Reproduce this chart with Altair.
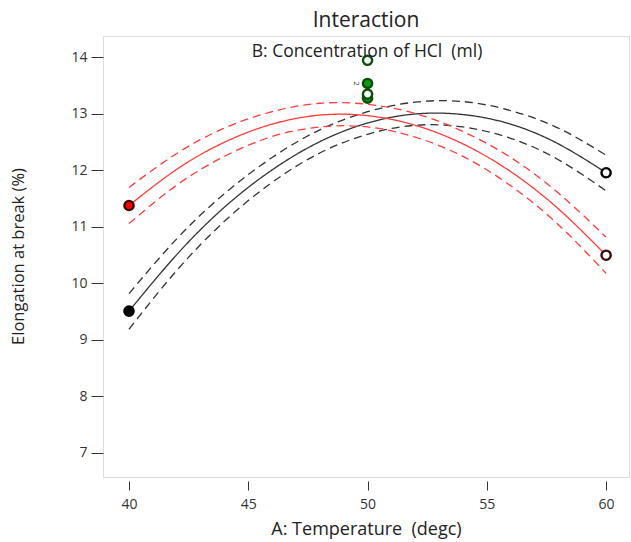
import altair as alt
import pandas as pd

# Temperature grid along each fitted curve (degc)
temps = [40, 42, 44, 46, 48, 50, 52, 54, 56, 58, 60]

# Low HCl level (black): fitted elongation and its interval limits
low_fit = [9.51, 10.51, 11.35, 12.01, 12.51, 12.84, 13.00, 12.99, 12.82, 12.47, 11.96]
low_upper = [9.82, 10.79, 11.59, 12.23, 12.72, 13.04, 13.21, 13.22, 13.06, 12.75, 12.27]
low_lower = [9.19, 10.23, 11.10, 11.79, 12.31, 12.64, 12.80, 12.77, 12.57, 12.19, 11.64]

# High HCl level (red): fitted elongation and its interval limits
high_fit = [11.38, 12.02, 12.50, 12.82, 12.98, 12.97, 12.80, 12.47, 11.98, 11.32, 10.50]
high_upper = [11.70, 12.30, 12.75, 13.04, 13.19, 13.17, 13.01, 12.69, 12.23, 11.60, 10.82]
high_lower = [11.06, 11.74, 12.25, 12.60, 12.77, 12.77, 12.59, 12.25, 11.73, 11.04, 10.18]

# Design points: temperature, elongation, fill, edge colour
pt_temp = [40, 40, 60, 60, 50, 50, 50, 50]
pt_value = [9.51, 11.38, 11.96, 10.50, 13.28, 13.54, 13.35, 13.95]
pt_fill = ["#000000", "#ff0000", "#ffffff", "#ffffff", "#109a10", "#109a10", "#ffffff", "#ffffff"]
pt_edge = ["#000000", "#3a0000", "#000000", "#3a0a0a", "#0b4f0b", "#0b4f0b", "#0b4f0b", "#0b4f0b"]

FONT = "Open Sans"
NBSP = "\u00a0"

rows = []
for level, curves in (("low", (low_fit, low_upper, low_lower)),
                      ("high", (high_fit, high_upper, high_lower))):
    for kind, vals in zip(("fit", "upper", "lower"), curves):
        for t, v in zip(temps, vals):
            rows.append({"temp": t, "value": v, "level": level, "kind": kind,
                         "curve": f"{level}-{kind}"})
lines_df = pd.DataFrame(rows)

points_df = pd.DataFrame({"temp": pt_temp, "value": pt_value,
                          "fill": pt_fill, "edge": pt_edge})

x_scale = alt.Scale(domain=[38.91, 60.96], nice=False, zero=False)
y_scale = alt.Scale(domain=[6.575, 14.38], nice=False, zero=False)

x_enc = alt.X("temp:Q", scale=x_scale,
              axis=alt.Axis(title=f"A: Temperature {NBSP}(degc)", values=[40, 45, 50, 55, 60],
                            format="d", grid=False, domain=False, offset=4,
                            tickSize=9, tickColor="#333", labelPadding=7,
                            labelFontSize=14, labelColor="#333", labelFont=FONT,
                            titleFont=FONT, titleFontSize=18, titleFontWeight="normal",
                            titleColor="#222", titlePadding=9))
y_enc = alt.Y("value:Q", scale=y_scale,
              axis=alt.Axis(title="Elongation at break (%)", values=[7, 8, 9, 10, 11, 12, 13, 14],
                            format="d", grid=False, domain=False, tickSize=12,
                            tickColor="#333", labelPadding=4, labelFontSize=14,
                            labelColor="#333", labelFont=FONT, titleFont=FONT,
                            titleFontSize=16.5, titleFontWeight="normal", titleColor="#222",
                            titleAngle=-90, titleX=-85, titleY=220, titleBaseline="middle",
                            titleAlign="center"))

lines = alt.Chart(lines_df).mark_line(interpolate="natural", strokeWidth=1.3).encode(
    x=x_enc,
    y=y_enc,
    detail="curve:N",
    color=alt.Color("level:N", scale=alt.Scale(domain=["low", "high"],
                                               range=["#333333", "#ff3b3b"]), legend=None),
    strokeDash=alt.StrokeDash("kind:N", scale=alt.Scale(domain=["fit", "upper", "lower"],
                                                        range=[[1, 0], [8, 5], [8, 5]]),
                              legend=None),
)

points = alt.Chart(points_df).mark_point(filled=False, shape="circle", size=85,
                                         strokeWidth=2.4, opacity=1).encode(
    x="temp:Q",
    y="value:Q",
    fill=alt.Fill("fill:N", scale=None),
    stroke=alt.Stroke("edge:N", scale=None),
)

count_label = alt.Chart(pd.DataFrame({"temp": [50], "value": [13.54], "t": ["2"]})).mark_text(
    fontSize=7, font=FONT, angle=90, dy=12, color="#333", align="center", baseline="middle"
).encode(x="temp:Q", y="value:Q", text="t:N")

legend_title = alt.Chart(pd.DataFrame({"t": [f"B: Concentration of HCl {NBSP}(ml)"]})).mark_text(
    fontSize=17.5, font=FONT, color="#222", baseline="middle"
).encode(x=alt.value(264), y=alt.value(16), text="t:N")

chart = alt.layer(lines, points, count_label, legend_title).properties(
    width=526,
    height=441,
    title=alt.TitleParams("Interaction", fontSize=21, font=FONT, fontWeight="normal",
                          color="#222", anchor="middle", offset=5),
    autosize=alt.AutoSizeParams(type="none"),
    padding={"left": 103, "top": 36, "right": 2, "bottom": 65},
).configure_view(
    stroke="#555555", strokeWidth=1.5
).configure(background="white")

chart.save("out.html", embed_options={"renderer": "svg", "actions": False})
